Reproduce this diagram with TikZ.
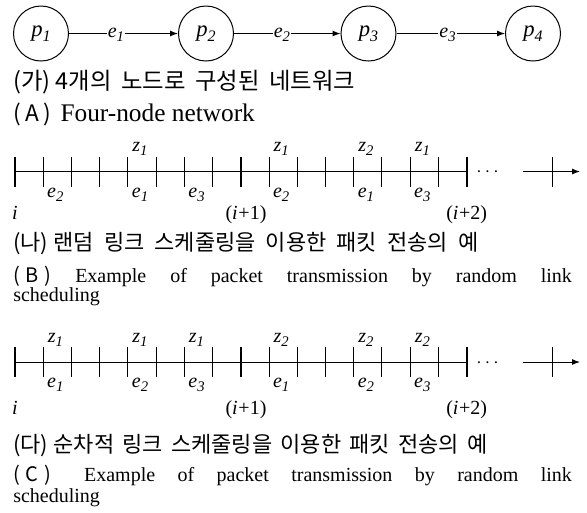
\documentclass[tikz,border=0pt]{standalone}
\usepackage{fontspec}
\setmainfont{Liberation Serif}
\newfontfamily\kr{Noto Sans CJK KR}
\usetikzlibrary{arrows.meta}
\newcommand{\lsub}[2]{\textit{#1}\raisebox{-3pt}{\fontsize{11pt}{11pt}\selectfont\textit{#2}}}
\newcommand{\psub}[2]{\textit{#1}\raisebox{-3.5pt}{\fontsize{12pt}{12pt}\selectfont\textit{#2}}}
\newcommand{\paren}[1]{{\kr(\kern4.3pt#1\kern4.3pt)}}
\newcommand{\ip}[1]{(\textit{i}\kern0.5pt+#1)}
\begin{document}
\begin{tikzpicture}[x=0.75pt,y=-0.75pt,
  txt/.style={font=\fontsize{15pt}{18pt}\selectfont, inner sep=0pt},
  bigtxt/.style={font=\fontsize{19pt}{22pt}\selectfont, inner sep=0pt},
  krbig/.style={font=\fontsize{17.5pt}{21pt}\selectfont\kr, inner sep=0pt},
  krtxt/.style={font=\fontsize{16.5pt}{20pt}\selectfont\kr, inner sep=0pt},
  pnode/.style={circle, draw, line width=0.75pt, minimum size=41.25pt, inner sep=0pt, font=\fontsize{17pt}{18pt}\selectfont},
  arr/.style={line width=0.75pt, -{Latex[length=6pt,width=4.5pt]}},
  elab/.style={txt, fill=white, inner sep=0.8pt, anchor=base, yshift=-3.2pt},
  minortick/.style={line width=0.75pt},
  majortick/.style={line width=1.5pt},
  axisline/.style={line width=0.75pt},
  bw/.style={anchor=base west},
  tlab/.style={txt, anchor=base},
]
\fill[white] (0,0) rectangle (587,512);
\useasboundingbox (0,0) rectangle (587,512);

% network
\node[pnode] (p1) at (41,33.5) {\psub{p}{1}};
\node[pnode] (p2) at (206,33.5) {\psub{p}{2}};
\node[pnode] (p3) at (368.5,33.5) {\psub{p}{3}};
\node[pnode] (p4) at (533,33.5) {\psub{p}{4}};
\draw[arr] (p1) -- node[elab,pos=0.43] (le1) {\lsub{e}{1}} (p2);
\draw[arr] (p2) -- node[elab,pos=0.45] (le2) {\lsub{e}{2}} (p3);
\draw[arr] (p3) -- node[elab,pos=0.47] (le3) {\lsub{e}{3}} (p4);

\node[krbig, bw] (capA) at (13,89) {\makebox[256.5pt][s]{(가)\kern4pt 4개의 노드로 구성된 네트워크}};
\node[bigtxt, bw] (capAe) at (13,121) {{\fontsize{17pt}{20pt}\selectfont{\kr(\kern3.3pt A\kern3.3pt)}}\hspace{7pt}Four-node network};

% timeline 1
\draw[axisline] (15,171.5) -- (466.7,171.5);
\foreach \k in {1,2,3,4,5,6,7,9,10,11,12,13,14,15}
  \draw[minortick] ({15+28.23*\k},156.5) -- ({15+28.23*\k},186.5);
\foreach \k in {0,8,16}
  \draw[majortick] ({15+28.23*\k},156.5) -- ({15+28.23*\k},186.5);
\node[txt, anchor=base] (dotsA) at (487.5,176.5) {$\cdots$};
\coordinate (sA) at (522.7,171.5);
\coordinate (tA) at (580,171.5);
\draw[arr] (sA) -- (tA);
\draw[minortick] (552,156.5) -- (552,186.5);
\foreach \k/\n in {4/1,9/1,12/2,14/1}
  \node[tlab] (zA\k) at ({27.1+28.23*\k},151.5) {\lsub{z}{\n}};
\foreach \k/\n in {1/2,4/1,6/3,9/2,12/1,14/3}
  \node[tlab] (eA\k) at ({27.1+28.23*\k},197) {\lsub{e}{\n}};
\node[tlab] (iA0) at (15,219) {\textit{i}};
\node[tlab] (iA1) at (246,219) {\ip{1}};
\node[tlab] (iA2) at (466.7,219) {\ip{2}};

\node[krtxt, bw] (capB) at (13,250) {\makebox[348.75pt][s]{(나)\kern4pt 랜덤 링크 스케줄링을 이용한 패킷 전송의 예}};
\node[txt, bw] (capBe) at (13,282) {\makebox[419pt][s]{\paren{B} Example of packet transmission by random link}};
\node[txt, bw] (capBe2) at (13,301) {scheduling};

% timeline 2
\draw[axisline] (15,362) -- (466.7,362);
\foreach \k in {1,2,3,4,5,6,7,9,10,11,12,13,14,15}
  \draw[minortick] ({15+28.23*\k},347) -- ({15+28.23*\k},377);
\foreach \k in {0,8,16}
  \draw[majortick] ({15+28.23*\k},347) -- ({15+28.23*\k},377);
\node[txt, anchor=base] (dotsB) at (487.5,367) {$\cdots$};
\coordinate (sB) at (522.7,362);
\coordinate (tB) at (580,362);
\draw[arr] (sB) -- (tB);
\draw[minortick] (552,347) -- (552,377);
\foreach \k/\n in {1/1,4/1,6/1,9/2,12/2,14/2}
  \node[tlab] (zB\k) at ({27.1+28.23*\k},342) {\lsub{z}{\n}};
\foreach \k/\n in {1/1,4/2,6/3,9/1,12/2,14/3}
  \node[tlab] (eB\k) at ({27.1+28.23*\k},387.5) {\lsub{e}{\n}};
\node[tlab] (iB0) at (15,414) {\textit{i}};
\node[tlab] (iB1) at (246,414) {\ip{1}};
\node[tlab] (iB2) at (466.7,414) {\ip{2}};

\node[krtxt, bw] (capC) at (13,452) {\makebox[355.5pt][s]{(다)\kern4pt 순차적 링크 스케줄링을 이용한 패킷 전송의 예}};
\node[txt, bw] (capCe) at (13,481) {\makebox[419pt][s]{\paren{C}\hspace{8pt} Example of packet transmission by random link}};
\node[txt, bw] (capCe2) at (13,502) {scheduling};
\end{tikzpicture}
\end{document}
